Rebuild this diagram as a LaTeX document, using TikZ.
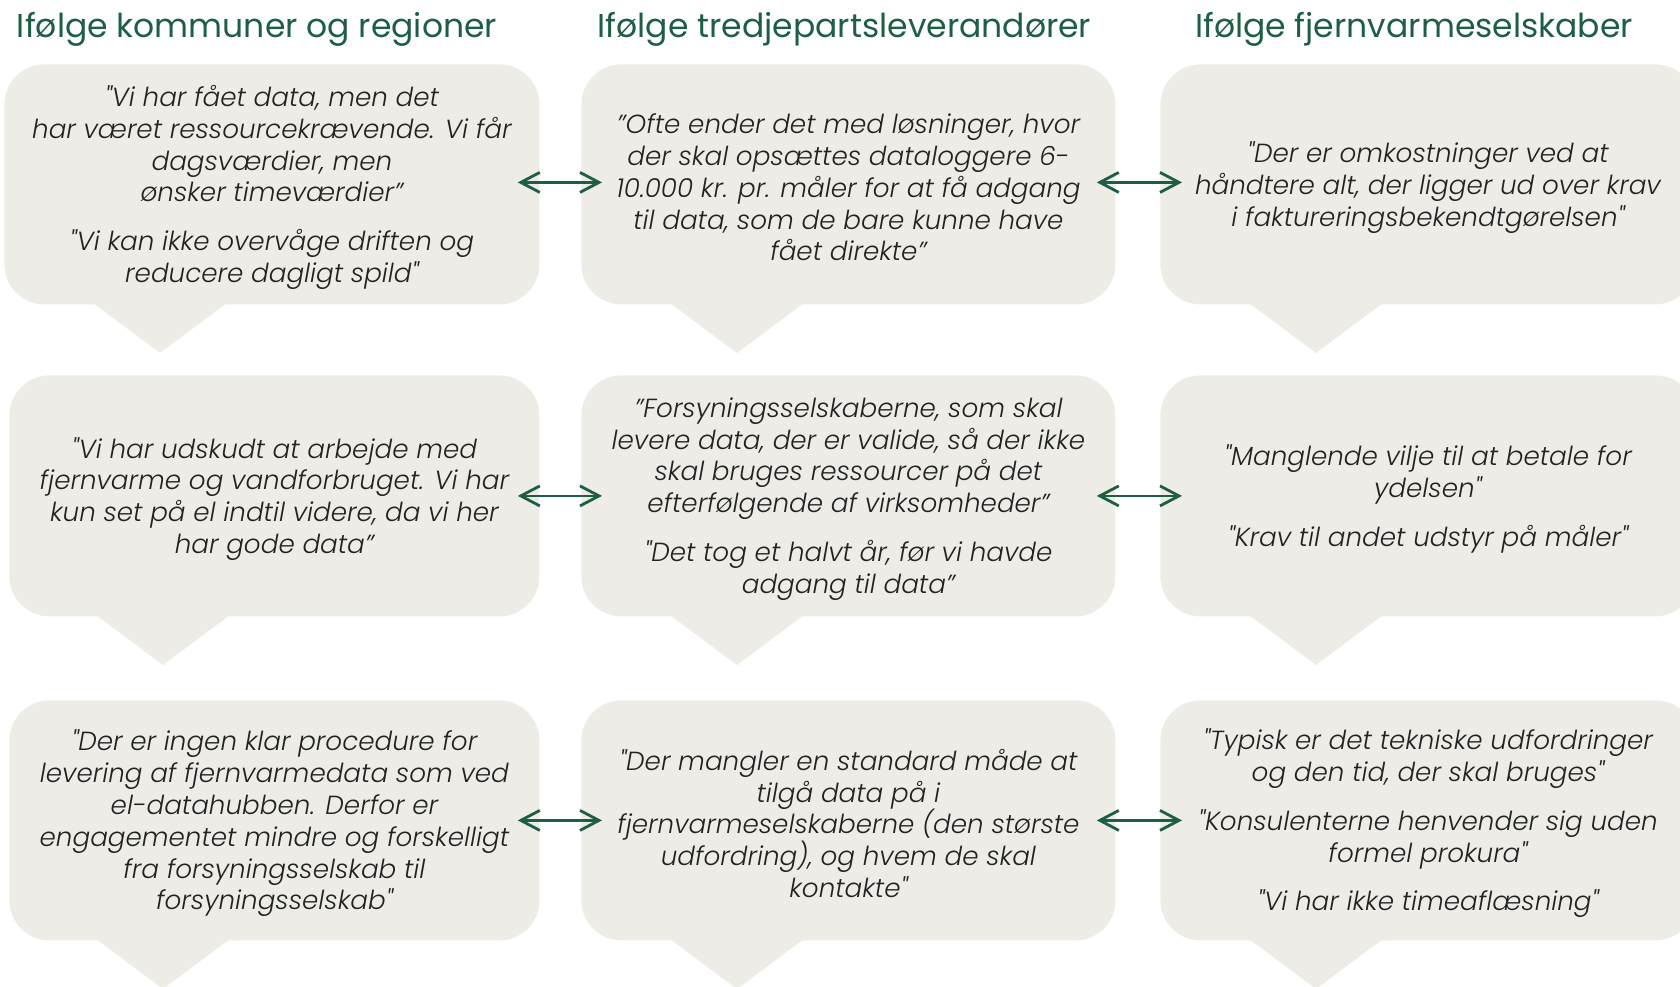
\documentclass[tikz,border=0pt]{standalone}
\usepackage{fontspec}
\setmainfont{Poppins}
\newfontfamily\qfont{Poppins}[UprightFont=* Light, ItalicFont=* Light Italic]
\usetikzlibrary{arrows.meta,calc}
\definecolor{bubblegray}{HTML}{EDECE7}
\definecolor{dgreen}{HTML}{1D5E45}
\definecolor{qtext}{HTML}{222222}
\tikzset{
  bubble/.style={fill=bubblegray, rounded corners=20pt, minimum height=120pt,
    inner sep=0pt, anchor=north west},
  quote/.style={align=center, text=qtext, inner sep=0pt, yshift=-1.5pt,
    font=\qfont\itshape\fontsize{13.1}{15.9}\selectfont},
  hdr/.style={font=\fontsize{16.5}{20}\selectfont, text=dgreen, anchor=base},
  link/.style={draw=dgreen, line width=1.4pt,
    {Straight Barb[length=9.5pt,width=10pt]}-{Straight Barb[length=9.5pt,width=10pt]}},
  tailshape/.style={fill=bubblegray}
}
\newcommand{\bubbletail}[2]{\fill[tailshape] (#1-67,#2-1) -- (#1,#2+49) -- (#1+67,#2-1) -- cycle;}
\begin{document}
\begin{tikzpicture}[x=0.5pt,y=-0.5pt]
\useasboundingbox (0,0) rectangle (1680,986);
\clip (0,0) rectangle (1680,986);

% headers
\node[hdr] (h1) at (257,37.5) {Ifølge kommuner og regioner};
\node[hdr] (h2) at (844.5,37.5) {Ifølge tredjepartsleverandører};
\node[hdr] (h3) at (1414,37.5) {Ifølge fjernvarmeselskaber};

% bubbles
\node[bubble, minimum width=267.5pt] (b11) at (4,64) {};
\node[bubble, minimum width=267pt] (b12) at (581,64) {};
\node[bubble, minimum width=267.5pt] (b13) at (1160,64) {};
\bubbletail{160}{304}
\bubbletail{737}{304}
\bubbletail{1316}{304}

\node[bubble, minimum width=265pt, minimum height=120.5pt] (b21) at (9,375) {};
\node[bubble, minimum width=267pt, minimum height=120.5pt] (b22) at (581,375) {};
\node[bubble, minimum width=267.5pt, minimum height=120.5pt] (b23) at (1160,375) {};
\bubbletail{163}{616}
\bubbletail{737}{616}
\bubbletail{1316}{616}

\node[bubble, minimum width=265pt] (b31) at (9,700) {};
\node[bubble, minimum width=267pt] (b32) at (581,700) {};
\node[bubble, minimum width=267.5pt] (b33) at (1160,700) {};
\bubbletail{163}{940}
\bubbletail{737}{940}
\bubbletail{1316}{940}

% quotes
\node[quote] (q11) at (b11.center) {"Vi har fået data, men det\\har været ressourcekrævende. Vi får\\dagsværdier, men\\ønsker timeværdier”\\[8.5pt]"Vi kan ikke overvåge driften og\\reducere dagligt spild"};
\node[quote] (q12) at (b12.center) {”Ofte ender det med løsninger, hvor\\der skal opsættes dataloggere 6-\\10.000 kr. pr. måler for at få adgang\\til data, som de bare kunne have\\fået direkte”};
\node[quote] (q13) at (b13.center) {"Der er omkostninger ved at\\håndtere alt, der ligger ud over krav\\i faktureringsbekendtgørelsen"};
\node[quote] (q21) at (b21.center) {"Vi har udskudt at arbejde med\\fjernvarme og vandforbruget. Vi har\\kun set på el indtil videre, da vi her\\har gode data”};
\node[quote] (q22) at (b22.center) {”Forsyningsselskaberne, som skal\\levere data, der er valide, så der ikke\\skal bruges ressourcer på det\\efterfølgende af virksomheder”\\[8.5pt]"Det tog et halvt år, før vi havde\\adgang til data”};
\node[quote] (q23) at (b23.center) {"Manglende vilje til at betale for\\ydelsen"\\[8.5pt]"Krav til andet udstyr på måler"};
\node[quote] (q31) at (b31.center) {"Der er ingen klar procedure for\\levering af fjernvarmedata som ved\\el-datahubben. Derfor er\\engagementet mindre og forskelligt\\fra forsyningsselskab til\\forsyningsselskab"};
\node[quote] (q32) at (b32.center) {"Der mangler en standard måde at\\tilgå data på i\\fjernvarmeselskaberne (den største\\udfordring), og hvem de skal\\kontakte"};
\node[quote] (q33) at (b33.center) {"Typisk er det tekniske udfordringer\\og den tid, der skal bruges"\\[8.5pt]"Konsulenterne henvender sig uden\\formel prokura"\\[8.5pt]"Vi har ikke timeaflæsning"};

% connectors
\draw[link] ($(b11.east)+(-22,-2)$) -- ($(b12.west)+(21,-2)$);
\draw[link] ($(b12.east)+(-19,-2)$) -- ($(b13.west)+(22,-2)$);
\draw[link] ($(b21.east)+(-22,0)$) -- ($(b22.west)+(21,0)$);
\draw[link] ($(b22.east)+(-19,0)$) -- ($(b23.west)+(22,0)$);
\draw[link] ($(b31.east)+(-22,0)$) -- ($(b32.west)+(21,0)$);
\draw[link] ($(b32.east)+(-19,0)$) -- ($(b33.west)+(22,0)$);
\end{tikzpicture}
\end{document}
